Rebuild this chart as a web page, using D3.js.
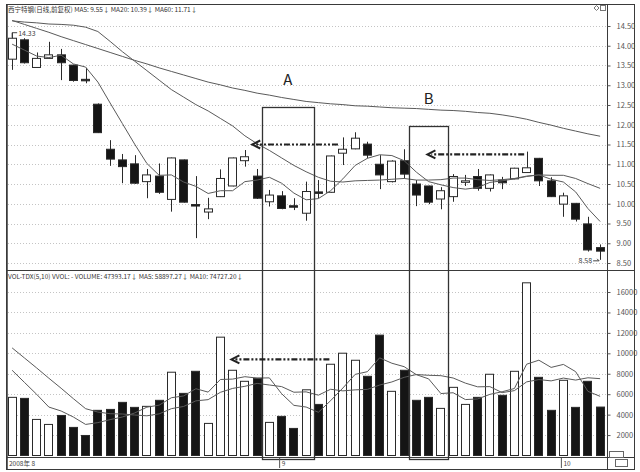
<!DOCTYPE html>
<html>
<head>
<meta charset="utf-8">
<script src="https://cdn.jsdelivr.net/npm/d3@7"></script>
<style>
  html, body { margin: 0; padding: 0; background: #fff; }
  svg { display: block; }
  text { font-family: "Noto Sans CJK SC", "DejaVu Sans", sans-serif; }
</style>
</head>
<body>
<svg id="chart" width="640" height="472"></svg>
<script>
// Daily OHLC for the stock, one entry per trading day
const opens  = [13.66,14.15,13.45,13.68,13.77,13.51,13.15,12.52,11.38,11.11,11.01,10.56,10.70,10.11,11.11,9.98,9.79,10.18,10.45,11.09,10.70,10.05,10.20,9.95,9.76,10.30,10.29,11.28,11.39,11.51,11.00,10.56,11.09,10.50,10.45,10.12,10.18,10.57,10.69,10.39,10.60,10.63,10.79,11.15,10.58,9.99,10.01,9.49,8.89];
const highs  = [14.33,14.19,13.83,14.10,13.92,13.52,13.44,12.54,11.61,11.26,11.23,10.88,11.02,11.17,11.12,10.70,10.15,10.87,11.17,11.36,10.88,10.35,10.32,10.14,10.56,10.60,11.22,11.68,11.81,11.57,11.23,11.10,11.38,10.60,10.46,10.42,10.75,10.73,10.88,10.74,10.68,10.91,11.32,11.16,10.67,10.28,10.02,9.67,8.97];
const lows   = [13.39,13.55,13.45,13.68,13.13,13.09,13.05,11.79,10.96,10.52,10.50,10.14,10.25,9.80,10.03,9.13,9.61,10.17,10.44,10.94,10.12,9.93,9.86,9.84,9.57,10.14,10.28,10.98,11.38,11.15,10.37,10.54,10.64,9.94,9.99,9.86,10.05,10.45,10.33,10.31,10.37,10.62,10.78,10.45,10.17,9.67,9.55,8.79,8.58];
const closes = [14.19,13.57,13.68,13.77,13.57,13.12,13.13,11.80,11.13,10.94,10.52,10.73,10.29,11.16,10.04,9.96,9.87,10.64,11.16,11.19,10.14,10.22,9.88,9.94,10.31,10.29,11.21,11.38,11.66,11.23,10.73,11.08,10.75,10.22,10.04,10.33,10.69,10.58,10.39,10.73,10.53,10.90,10.91,10.58,10.18,10.20,9.61,8.83,8.80];

// Price moving averages
const ma5  = [14.04,13.89,13.74,13.70,13.76,13.54,13.46,13.08,12.55,12.03,11.51,11.02,10.72,10.73,10.55,10.44,10.26,10.33,10.33,10.56,10.60,10.67,10.52,10.27,10.10,10.13,10.33,10.63,10.97,11.15,11.24,11.22,11.09,10.80,10.56,10.48,10.41,10.37,10.41,10.54,10.58,10.63,10.69,10.73,10.62,10.55,10.30,9.88,9.55];
const ma20 = [14.63,14.60,14.58,14.55,14.54,14.52,14.47,14.36,14.11,13.85,13.61,13.37,13.13,12.89,12.70,12.51,12.35,12.16,11.97,11.72,11.52,11.35,11.16,10.97,10.81,10.67,10.57,10.55,10.58,10.59,10.60,10.62,10.64,10.60,10.60,10.61,10.65,10.65,10.61,10.59,10.61,10.64,10.70,10.73,10.72,10.72,10.64,10.51,10.39];
const ma60 = [14.64,14.54,14.44,14.34,14.23,14.13,14.03,13.93,13.83,13.73,13.63,13.54,13.44,13.35,13.26,13.17,13.08,13.01,12.93,12.87,12.80,12.75,12.69,12.64,12.59,12.56,12.53,12.51,12.48,12.47,12.45,12.43,12.42,12.41,12.39,12.37,12.36,12.34,12.31,12.29,12.25,12.20,12.14,12.06,11.99,11.91,11.84,11.77,11.71];

// Daily volume and its moving averages
const volumes = [5690,5590,3530,3040,3920,2750,1960,4420,4510,5200,4710,4810,5400,8150,6080,8240,3140,11580,8340,7260,7560,3240,3830,2650,6430,5000,8930,10010,9320,7750,11780,6280,8340,5400,5690,4610,6670,5000,5690,7950,5890,8240,16900,7650,4420,7360,4710,7260,4740];
const volMa5  = [8340,7160,5990,4740,4354,3766,3040,3218,3512,3768,4160,4730,4926,5654,5830,6536,6202,7438,7476,7712,7576,7596,6046,4908,4742,4230,5368,6604,7938,8202,9558,9028,8694,7910,7498,6064,6142,5474,5532,5984,6240,6554,8934,9326,8620,8914,8208,6280,5790];
const volMa10 = [10530,9550,8570,7560,6580,5560,4580,4250,4090,4061,3963,3885,4072,4583,4799,5348,5466,6182,6565,6771,7056,6899,6742,6192,6227,5903,6482,6325,6423,6472,6894,7198,7649,7924,7850,7811,7585,7084,6721,6741,6152,6348,7204,7429,7302,7577,7381,7607,7519];

// Axis ticks and labels
const priceTicks  = [8.5,9,9.5,10,10.5,11,11.5,12,12.5,13,13.5,14,14.5];
const volumeTicks = [2000,4000,6000,8000,10000,12000,14000,16000];
const monthLabels = [{i: 0, text: "2008年  8"}, {i: 22, text: "9"}, {i: 45, text: "10"}];
const priceTitle  = "西宁特钢(日线,前复权) MA5: 9.55↓  MA20: 10.39↓  MA60: 11.71↓";
const volumeTitle = "VOL-TDX(5,10) VVOL: - VOLUME: 47393.17↓ MA5: 58897.27↓ MA10: 74727.20↓";

// Highlighted windows (first/last day index) and their captions
const zones = [{label: "A", from: 21, to: 24, topPrice: 12.45}, {label: "B", from: 33, to: 35, topPrice: 11.98}];

// Dash-dot arrows: start/end in day units, level in price or volume units
const arrows = [
  {from: 26.6, to: 19.6, level: 11.5, panel: "price"},
  {from: 41.8, to: 33.9, level: 11.25, panel: "price"},
  {from: 25.9, to: 17.9, level: 9400, panel: "volume"}
];

const n = closes.length;
const days = d3.range(n);
const svg = d3.select("#chart");
const ink = "#2a2a2a";

const frameLeft = 6, plotRight = 607, frameRight = 635, frameTop = 4, frameBottom = 470;
const priceBottom = 270, volBottom = 457;

const x = d3.scaleBand().domain(days).range([frameLeft, 606.25]).paddingInner(0.27).paddingOuter(0.135);
const cx = i => x(i) + x.bandwidth() / 2;
// Continuous position along the day axis (for annotations between days)
const xAt = t => x(0) + x.bandwidth() / 2 + t * x.step();
const y = d3.scaleLinear().domain([8.5, 14.5]).range([263, 26]);
const yv = d3.scaleLinear().domain([0, 16000]).range([455.5, 292]);

// Grid lines
const grid = svg.append("g").attr("stroke", "#c4c4c4").attr("stroke-dasharray", "1,2");
grid.selectAll("line.p").data(priceTicks).join("line")
  .attr("x1", frameLeft + 2).attr("x2", plotRight)
  .attr("y1", d => Math.round(y(d)) + 0.5).attr("y2", d => Math.round(y(d)) + 0.5);
grid.selectAll("line.v").data(volumeTicks).join("line")
  .attr("x1", frameLeft + 2).attr("x2", plotRight)
  .attr("y1", d => Math.round(yv(d)) + 0.5).attr("y2", d => Math.round(yv(d)) + 0.5);

// Frames
const frame = svg.append("g").attr("stroke", "#3a3a3a").attr("fill", "none");
frame.append("rect").attr("x", frameLeft + 0.5).attr("y", frameTop + 0.5).attr("width", frameRight - frameLeft - 1).attr("height", frameBottom - frameTop - 1);
frame.append("line").attr("x1", frameLeft).attr("x2", frameRight).attr("y1", priceBottom + 0.5).attr("y2", priceBottom + 0.5);
frame.append("line").attr("x1", plotRight + 0.5).attr("x2", plotRight + 0.5).attr("y1", frameTop).attr("y2", frameBottom);
frame.append("line").attr("x1", frameLeft).attr("x2", frameRight).attr("y1", volBottom + 0.5).attr("y2", volBottom + 0.5);
frame.append("line").attr("x1", frameLeft + 1).attr("x2", frameLeft + 1).attr("y1", frameTop).attr("y2", frameBottom).attr("stroke-width", 1.5);

// Right-hand axes
const priceAxis = d3.axisRight(y).tickValues(priceTicks).tickFormat(d3.format(".2f")).tickSize(3).tickPadding(6);
const gp = svg.append("g").attr("transform", `translate(${plotRight + 0.5},0)`).call(priceAxis);
const volAxis = d3.axisRight(yv).tickValues(volumeTicks).tickFormat(d3.format("d")).tickSize(3).tickPadding(6);
const gv = svg.append("g").attr("transform", `translate(${plotRight + 0.5},0)`).call(volAxis);
[gp, gv].forEach(g => {
  g.select(".domain").remove();
  g.selectAll(".tick line").attr("stroke", "#555");
  g.selectAll(".tick text").attr("fill", "#555").attr("font-size", 7.5).attr("font-family", "Arial, 'Liberation Sans', sans-serif");
});

// Candles
const candles = svg.append("g");
candles.selectAll("line.wick").data(days).join("line")
  .attr("x1", i => Math.round(cx(i)) + 0.5).attr("x2", i => Math.round(cx(i)) + 0.5)
  .attr("y1", i => y(highs[i])).attr("y2", i => y(lows[i]))
  .attr("stroke", ink).attr("stroke-width", 1);
candles.selectAll("rect.body").data(days).join("rect")
  .attr("x", i => Math.round(x(i)) + 0.5)
  .attr("width", Math.round(x.bandwidth()) - 1)
  .attr("y", i => y(Math.max(opens[i], closes[i])))
  .attr("height", i => Math.max(1.5, Math.abs(y(opens[i]) - y(closes[i]))))
  .attr("fill", i => closes[i] >= opens[i] ? "#fff" : "#151515")
  .attr("stroke", ink).attr("stroke-width", 1);

// Moving-average lines
const maLine = d3.line().x((d, i) => cx(i)).y(d => y(d));
[ma60, ma20, ma5].forEach(series => {
  svg.append("path").attr("d", maLine(series)).attr("fill", "none")
    .attr("stroke", "#5a5a5a").attr("stroke-width", 1);
});

// Volume bars
const vol = svg.append("g");
vol.selectAll("rect").data(days).join("rect")
  .attr("x", i => Math.round(x(i)) + 0.5)
  .attr("width", Math.round(x.bandwidth()) - 1)
  .attr("y", i => yv(volumes[i]))
  .attr("height", i => yv(0) - yv(volumes[i]))
  .attr("fill", i => closes[i] >= opens[i] ? "#fff" : "#151515")
  .attr("stroke", ink).attr("stroke-width", 1);
const vLine = d3.line().x((d, i) => cx(i)).y(d => yv(d));
[volMa10, volMa5].forEach(series => {
  svg.append("path").attr("d", vLine(series)).attr("fill", "none")
    .attr("stroke", "#5a5a5a").attr("stroke-width", 1);
});

// High / low markers
const hiIdx = d3.maxIndex(highs), loIdx = d3.minIndex(lows);
svg.append("path").attr("d", `M${cx(hiIdx)},${y(highs[hiIdx]) + 5}V${y(highs[hiIdx])}H${cx(hiIdx) + 5}`)
  .attr("fill", "none").attr("stroke", "#444");
svg.append("text").attr("x", cx(hiIdx) + 6).attr("y", y(highs[hiIdx]) + 3)
  .attr("font-size", 7).attr("fill", "#444").attr("font-family", "Arial, sans-serif").text(d3.format(".2f")(highs[hiIdx]));
svg.append("text").attr("x", cx(loIdx) - 8).attr("y", y(lows[loIdx]) + 3).attr("text-anchor", "end")
  .attr("font-size", 7).attr("fill", "#444").attr("font-family", "Arial, sans-serif").text(d3.format(".2f")(lows[loIdx]));
svg.append("path").attr("d", `M${cx(loIdx) - 7},${y(lows[loIdx]) + 1}H${cx(loIdx) - 1}M${cx(loIdx) - 3},${y(lows[loIdx]) - 1}L${cx(loIdx) - 1},${y(lows[loIdx]) + 1}`)
  .attr("fill", "none").attr("stroke", "#444");

// Highlighted windows
zones.forEach(z => {
  const x0 = x(z.from) - 3, x1 = x(z.to) + x.bandwidth() + 3;
  const yTop = Math.round(y(z.topPrice));
  svg.append("rect").attr("x", Math.round(x0) + 0.5).attr("y", yTop + 0.5)
    .attr("width", Math.round(x1 - x0)).attr("height", 459 - yTop)
    .attr("fill", "none").attr("stroke", "#333").attr("stroke-width", 1.3);
  svg.append("text").attr("x", (x0 + x1) / 2).attr("y", yTop - 22).attr("text-anchor", "middle")
    .attr("font-family", "'Liberation Serif', 'DejaVu Serif', serif").attr("font-size", 15).attr("fill", "#222").text(z.label);
});

arrows.forEach(a => {
  const yy = a.panel === "price" ? y(a.level) : yv(a.level);
  const xs = xAt(a.from), xe = xAt(a.to);
  svg.append("line").attr("x1", xs).attr("x2", xe + 4).attr("y1", yy).attr("y2", yy)
    .attr("stroke", "#222").attr("stroke-width", 2.2).attr("stroke-dasharray", "6,2,2,2,2,2");
  svg.append("path").attr("d", `M${xe + 8},${yy - 4}L${xe},${yy}L${xe + 8},${yy + 4}`)
    .attr("fill", "none").attr("stroke", "#222").attr("stroke-width", 2);
});

// Titles
svg.append("text").attr("x", 8).attr("y", 12).attr("font-size", 6.5).attr("fill", "#333").text(priceTitle);
svg.append("text").attr("x", 8).attr("y", 279).attr("font-size", 6.5).attr("fill", "#333").text(volumeTitle);

// Month labels on the date strip
svg.selectAll("text.m").data(monthLabels).join("text")
  .attr("x", d => d.i === 0 ? 9 : cx(d.i)).attr("y", 466)
  .attr("font-size", 6.5).attr("fill", "#444").text(d => d.text);
svg.selectAll("line.m").data(monthLabels.filter(d => d.i > 0)).join("line")
  .attr("x1", d => cx(d.i) - 2).attr("x2", d => cx(d.i) - 2).attr("y1", 458).attr("y2", 468).attr("stroke", "#555");

// Small controls in the corners
svg.append("rect").attr("x", 600.5).attr("y", 5.5).attr("width", 5).attr("height", 5).attr("fill", "none").attr("stroke", "#777");
svg.append("path").attr("d", "M594,8L596.5,5.5L599,8L596.5,10.5Z").attr("fill", "none").attr("stroke", "#777");
svg.append("rect").attr("x", 609.5).attr("y", 451.5).attr("width", 14).attr("height", 6).attr("fill", "#fff").attr("stroke", "#666");
svg.append("rect").attr("x", 615.5).attr("y", 459.5).attr("width", 12).attr("height", 7).attr("fill", "#fff").attr("stroke", "#666");
</script>
</body>
</html>
